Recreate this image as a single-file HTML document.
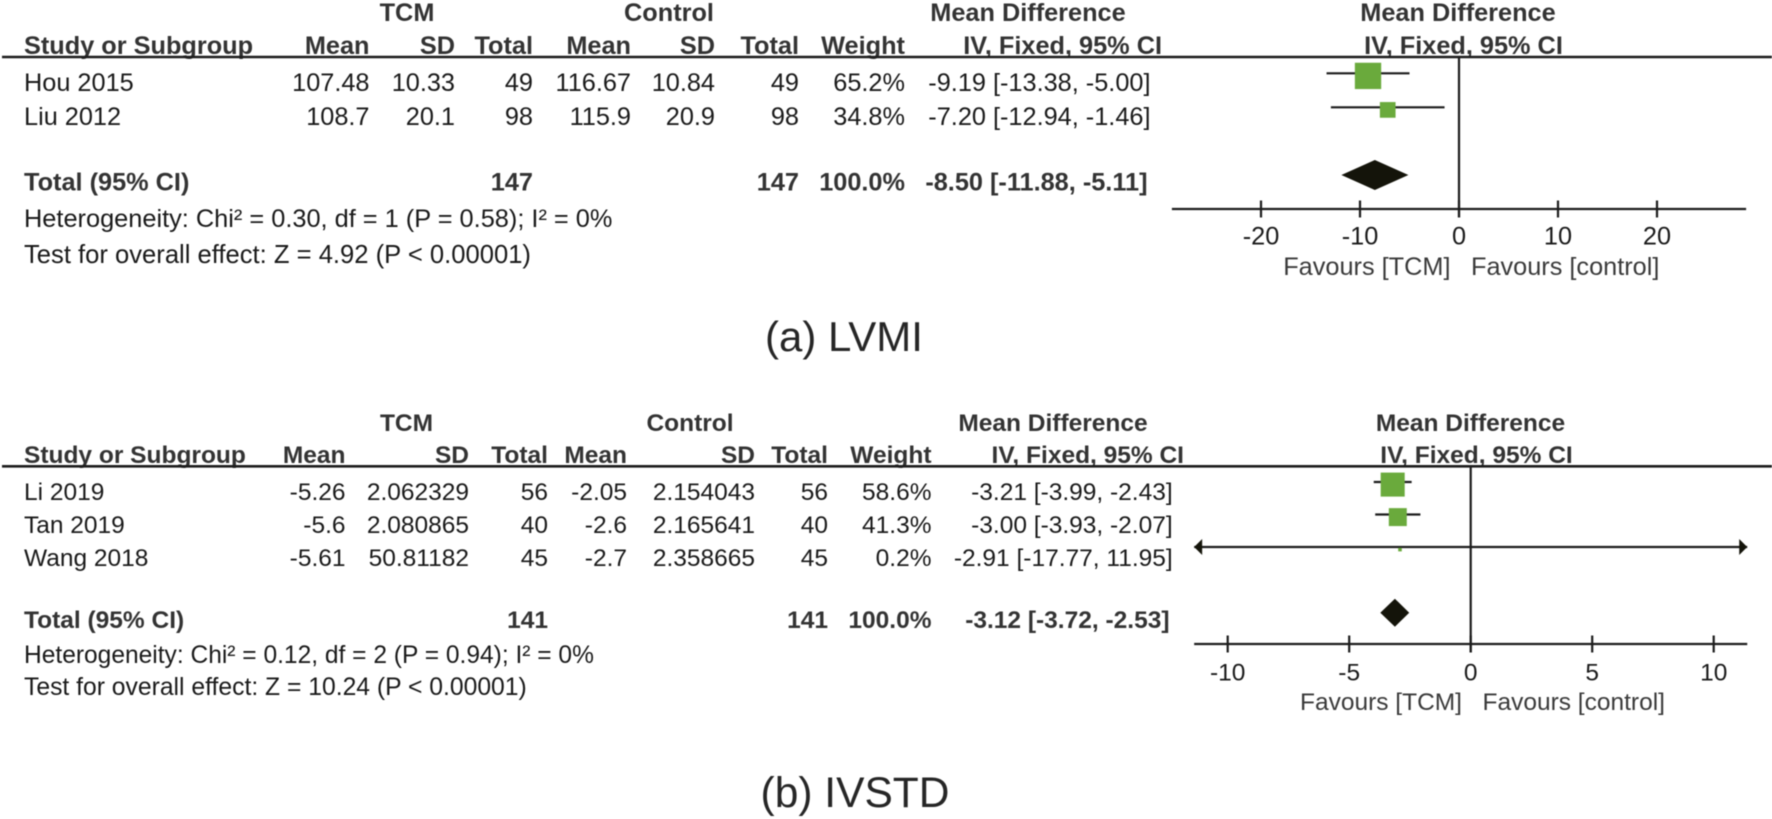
<!DOCTYPE html>
<html lang="en">
<head>
<meta charset="utf-8">
<title>Forest plots: LVMI and IVSTD</title>
<style>
html,body{margin:0;padding:0;background:#fff;}
svg{display:block;filter:blur(0.45px);}
text{font-family:"Liberation Sans",Arial,sans-serif;fill:#1a1a1a;}
text.b{font-weight:bold;fill:#333;}
text.fav{fill:#3a3a3a;}
text.cap{fill:#262626;}
</style>
</head>
<body>
<svg id="chart" xmlns="http://www.w3.org/2000/svg" width="1772" height="819" viewBox="0 0 1772 819"></svg>
<script>
// Panel (a) LVMI data
const studiesA = ["Hou 2015", "Liu 2012"];
const tcmMeanA = ["107.48", "108.7"];
const tcmSdA = ["10.33", "20.1"];
const tcmTotalA = [49, 98];
const ctlMeanA = ["116.67", "115.9"];
const ctlSdA = ["10.84", "20.9"];
const ctlTotalA = [49, 98];
const weightA = [65.2, 34.8];
const mdA = [-9.19, -7.20];
const lowA = [-13.38, -12.94];
const highA = [-5.00, -1.46];
const totalA = [-8.50, -11.88, -5.11];
const totalNA = [147, 147];
const ticksA = [-20, -10, 0, 10, 20];
const domainA = [-29, 29];

// Panel (b) IVSTD data
const studiesB = ["Li 2019", "Tan 2019", "Wang 2018"];
const tcmMeanB = ["-5.26", "-5.6", "-5.61"];
const tcmSdB = ["2.062329", "2.080865", "50.81182"];
const tcmTotalB = [56, 40, 45];
const ctlMeanB = ["-2.05", "-2.6", "-2.7"];
const ctlSdB = ["2.154043", "2.165641", "2.358665"];
const ctlTotalB = [56, 40, 45];
const weightB = [58.6, 41.3, 0.2];
const mdB = [-3.21, -3.00, -2.91];
const lowB = [-3.99, -3.93, -17.77];
const highB = [-2.43, -2.07, 11.95];
const totalB = [-3.12, -3.72, -2.53];
const totalNB = [141, 141];
const ticksB = [-10, -5, 0, 5, 10];
const domainB = [-11.38, 11.38];

const NS = "http://www.w3.org/2000/svg";
const svg = document.getElementById("chart");
let panelFont = 25;

function addText(str, x, y, anchor, cls, name, size) {
  const el = document.createElementNS(NS, "text");
  el.setAttribute("x", x);
  el.setAttribute("y", y);
  el.setAttribute("text-anchor", anchor);
  el.setAttribute("font-size", size || panelFont);
  if (cls) el.setAttribute("class", cls);
  el.textContent = str;
  
  
  svg.appendChild(el);
  return el;
}
function addLine(x1, y1, x2, y2, w, name) {
  const el = document.createElementNS(NS, "line");
  el.setAttribute("x1", x1);
  el.setAttribute("y1", y1);
  el.setAttribute("x2", x2);
  el.setAttribute("y2", y2);
  el.setAttribute("stroke", "#1c1c1c");
  el.setAttribute("stroke-width", w);
  
  
  svg.appendChild(el);
  return el;
}
function addPoly(points, fill, name) {
  const el = document.createElementNS(NS, "polygon");
  el.setAttribute("points", points);
  el.setAttribute("fill", fill);
  
  
  svg.appendChild(el);
  return el;
}
function addSquare(cx, cy, size, name) {
  const el = document.createElementNS(NS, "rect");
  el.setAttribute("x", cx - size / 2);
  el.setAttribute("y", cy - size / 2);
  el.setAttribute("width", size);
  el.setAttribute("height", size);
  el.setAttribute("fill", "#6aaa3c");
  
  
  svg.appendChild(el);
  return el;
}
function fmt(v) { return v.toFixed(2); }
function ciText(m, l, h) { return fmt(m) + " [" + fmt(l) + ", " + fmt(h) + "]"; }

function drawPanel(p) {
  panelFont = p.font;
  const xScale = v => p.zero + v * p.unit;
  const markY = i => p.markY0 + i * p.rowStep;
  const textY = i => p.textY0 + i * p.textStep;
  const n = p.studies.length;
  const c = p.cols;

  // Header
  addText("TCM", c.tcmCenter, p.h1, "middle", "b", "tcm-group-header");
  addText("Control", c.ctlCenter, p.h1, "middle", "b", "control-group-header");
  addText("Mean Difference", c.mdCenter, p.h1, "middle", "b", "mean-difference-header");
  addText("Mean Difference", c.plotMdCenter, p.h1, "middle", "b", "plot-mean-difference-header");
  addText("Study or Subgroup", 24, p.h2, "start", "b", "study-column-header");
  addText("Mean", c.m1, p.h2, "end", "b", "tcm-mean-header");
  addText("SD", c.s1, p.h2, "end", "b", "tcm-sd-header");
  addText("Total", c.t1, p.h2, "end", "b", "tcm-total-header");
  addText("Mean", c.m2, p.h2, "end", "b", "control-mean-header");
  addText("SD", c.s2, p.h2, "end", "b", "control-sd-header");
  addText("Total", c.t2, p.h2, "end", "b", "control-total-header");
  addText("Weight", c.w, p.h2, "end", "b", "weight-header");
  addText("IV, Fixed, 95% CI", c.ivRight, p.h2, "end", "b", "ci-method-header");
  addText("IV, Fixed, 95% CI", c.plotIvCenter, p.h2, "middle", "b", "plot-ci-method-header");
  addLine(2, p.headY, 1772, p.headY, 2.6, "header-rule");

  // Rows
  for (let i = 0; i < n; i++) {
    const b = textY(i);
    addText(p.studies[i], 24, b, "start", "", "study-name");
    addText(p.tcmMean[i], c.m1, b, "end", "", "tcm-mean-value");
    addText(p.tcmSd[i], c.s1, b, "end", "", "tcm-sd-value");
    addText(p.tcmTotal[i], c.t1, b, "end", "", "tcm-total-value");
    addText(p.ctlMean[i], c.m2, b, "end", "", "control-mean-value");
    addText(p.ctlSd[i], c.s2, b, "end", "", "control-sd-value");
    addText(p.ctlTotal[i], c.t2, b, "end", "", "control-total-value");
    addText(p.weight[i].toFixed(1) + "%", c.w, b, "end", "", "weight-value");
    addText(ciText(p.md[i], p.low[i], p.high[i]), c.ci, b, "end", "", "effect-ci-value");
  }

  // Total row
  const tb = p.totalTextY;
  addText("Total (95% CI)", 24, tb, "start", "b", "total-label");
  addText(p.totalN[0], c.t1, tb, "end", "b", "tcm-grand-total");
  addText(p.totalN[1], c.t2, tb, "end", "b", "control-grand-total");
  addText("100.0%", c.w, tb, "end", "b", "total-weight");
  addText(ciText(p.total[0], p.total[1], p.total[2]), c.ciTotal, tb, "end", "b", "total-effect-ci");
  addText(p.het, 24, p.hetY, "start", "", "heterogeneity-note", p.hetFont);
  addText(p.test, 24, p.testY, "start", "", "overall-effect-note", p.testFont);

  // Axis and zero line
  addLine(xScale(0), p.headY, xScale(0), p.axisY + 8.5, 2.2, "no-effect-line");
  addLine(xScale(p.domain[0]), p.axisY, xScale(p.domain[1]), p.axisY, 2.2, "x-axis-line");
  p.ticks.forEach(t => {
    addLine(xScale(t), p.axisY - 8.5, xScale(t), p.axisY + 8.5, 2.2, "x-axis-tick");
    addText(String(t), xScale(t), p.axisY + p.tickDy, "middle", "", "x-axis-tick-label");
  });
  addText("Favours [TCM]", p.favL, p.favY, "end", "fav", "favours-tcm-label");
  addText("Favours [control]", p.favR, p.favY, "start", "fav", "favours-control-label");

  // Study marks
  for (let i = 0; i < n; i++) {
    const y = markY(i);
    const loClip = p.low[i] < p.domain[0];
    const hiClip = p.high[i] > p.domain[1];
    const x1 = xScale(loClip ? p.domain[0] : p.low[i]);
    const x2 = xScale(hiClip ? p.domain[1] : p.high[i]);
    addLine(x1, y, x2, y, 2.2, "confidence-interval");
    if (loClip) addPoly(x1 + "," + y + " " + (x1 + 8) + "," + (y - 8) + " " + (x1 + 8) + "," + (y + 8), "#14140a", "ci-arrow-left");
    if (hiClip) addPoly(x2 + "," + y + " " + (x2 - 8) + "," + (y - 8) + " " + (x2 - 8) + "," + (y + 8), "#14140a", "ci-arrow-right");
    addSquare(xScale(p.md[i]), y + 2.6, 3.5 + 0.35 * p.weight[i], "effect-square");
  }

  // Diamond
  const dy = p.totalY, dh = p.diamondH;
  addPoly(
    xScale(p.total[1]) + "," + dy + " " +
    xScale(p.total[0]) + "," + (dy - dh) + " " +
    xScale(p.total[2]) + "," + dy + " " +
    xScale(p.total[0]) + "," + (dy + dh),
    "#14140a", "pooled-effect-diamond");

  addText(p.caption, p.capX, p.capY, "middle", "cap", "panel-caption", p.capFont);
}

drawPanel({
  studies: studiesA, tcmMean: tcmMeanA, tcmSd: tcmSdA, tcmTotal: tcmTotalA,
  ctlMean: ctlMeanA, ctlSd: ctlSdA, ctlTotal: ctlTotalA, weight: weightA,
  md: mdA, low: lowA, high: highA, total: totalA, totalN: totalNA,
  ticks: ticksA, domain: domainA, font: 25.3, hetFont: 25.35, testFont: 25.6,
  zero: 1459, unit: 9.9, axisY: 209, headY: 57, h1: 21, h2: 54,
  markY0: 73.3, textY0: 91, rowStep: 34, textStep: 34, totalY: 175, totalTextY: 190.5, diamondH: 15,
  hetY: 227, testY: 263, tickDy: 35.5, favL: 1450.5, favR: 1471, favY: 275,
  het: "Heterogeneity: Chi² = 0.30, df = 1 (P = 0.58); I² = 0%",
  test: "Test for overall effect: Z = 4.92 (P < 0.00001)",
  caption: "(a) LVMI", capX: 844, capY: 351, capFont: 42,
  cols: { tcmCenter: 407, ctlCenter: 669, mdCenter: 1028, plotMdCenter: 1458,
    m1: 369.5, s1: 455, t1: 533, m2: 631, s2: 715, t2: 799, w: 905,
    ivRight: 1162, plotIvCenter: 1463.5, ci: 1150.5, ciTotal: 1147.5 }
});

drawPanel({
  studies: studiesB, tcmMean: tcmMeanB, tcmSd: tcmSdB, tcmTotal: tcmTotalB,
  ctlMean: ctlMeanB, ctlSd: ctlSdB, ctlTotal: ctlTotalB, weight: weightB,
  md: mdB, low: lowB, high: highB, total: totalB, totalN: totalNB,
  ticks: ticksB, domain: domainB, font: 24.5, hetFont: 24.55, testFont: 24.7,
  zero: 1470.7, unit: 24.3, axisY: 644, headY: 466.3, h1: 431, h2: 463,
  markY0: 482, textY0: 500, rowStep: 32.5, textStep: 33, totalY: 612.7, totalTextY: 628, diamondH: 14,
  hetY: 663, testY: 695, tickDy: 36.5, favL: 1462, favR: 1482.5, favY: 710,
  het: "Heterogeneity: Chi² = 0.12, df = 2 (P = 0.94); I² = 0%",
  test: "Test for overall effect: Z = 10.24 (P < 0.00001)",
  caption: "(b) IVSTD", capX: 855, capY: 807, capFont: 42.5,
  cols: { tcmCenter: 406.5, ctlCenter: 690, mdCenter: 1053, plotMdCenter: 1470.5,
    m1: 345.5, s1: 469, t1: 548, m2: 627, s2: 755, t2: 828, w: 931.5,
    ivRight: 1184, plotIvCenter: 1476.5, ci: 1172.7, ciTotal: 1169.5 }
});
</script>
</body>
</html>
